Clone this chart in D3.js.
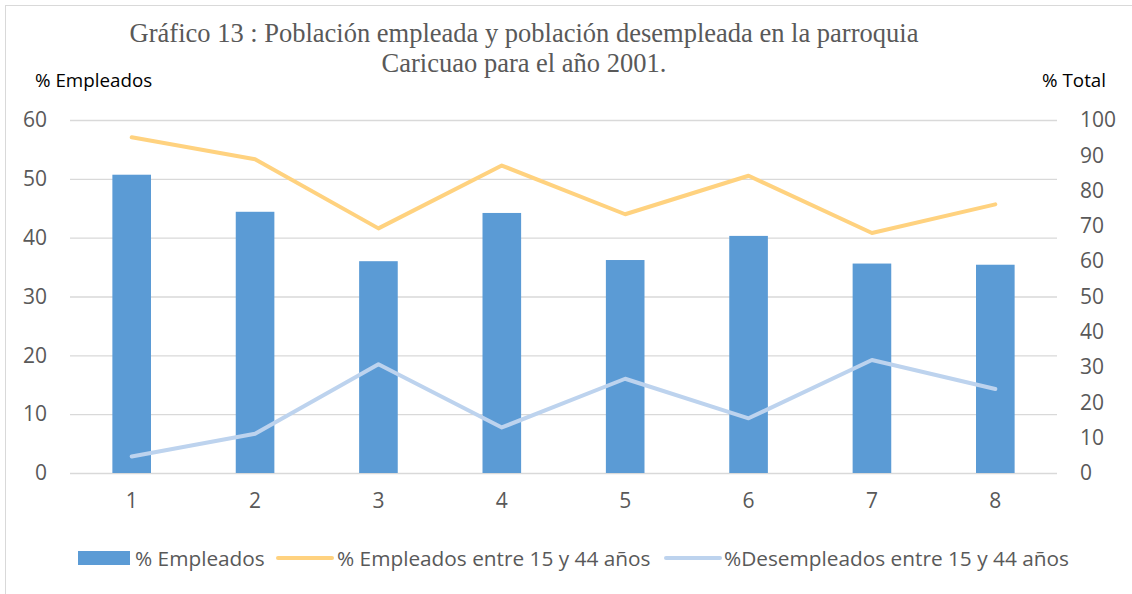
<!DOCTYPE html>
<html>
<head>
<meta charset="utf-8">
<script src="https://cdn.jsdelivr.net/npm/d3@7"></script>
<style>
  body { margin: 0; background: #fff; }
  text { font-family: "Open Sans", sans-serif; }
</style>
</head>
<body>
<div id="chart"></div>
<script>
const width = 1132;
const height = 594;

const margin = { top: 120, left: 70, bottom: 121, right: 75 };

// data
const categories = ["1", "2", "3", "4", "5", "6", "7", "8"];
const empleados = [50.7, 44.4, 36.0, 44.2, 36.2, 40.3, 35.6, 35.4];
const empleados1544 = [95.1, 88.9, 69.3, 87.1, 73.3, 84.2, 68.0, 76.1];
const desempleados1544 = [4.7, 11.1, 30.8, 12.9, 26.7, 15.5, 32.0, 23.8];
const leftTicks = [0, 10, 20, 30, 40, 50, 60];
const rightTicks = [0, 10, 20, 30, 40, 50, 60, 70, 80, 90, 100];

const seriesNames = ["% Empleados", "% Empleados entre 15 y 44 años", "%Desempleados entre 15 y 44 años"];
const colors = ["#5b9bd5", "#ffd27f", "#bdd3ee"];

const innerW = width - margin.left - margin.right;
const innerH = height - margin.top - margin.bottom;

//scales
const xScale = d3.scaleBand()
    .domain(categories)
    .range([0, innerW])
    .paddingInner(0.687)
    .paddingOuter(0.3435);

const yLeft = d3.scaleLinear().domain([0, 60]).range([innerH, 0]);
const yRight = d3.scaleLinear().domain([0, 100]).range([innerH, 0]);

const svg = d3.select("#chart").append("svg").attr("width", width).attr("height", height);

// outer frame (only left and top edges visible in picture)
svg.append("rect")
    .attr("x", 5.5).attr("y", 5.5)
    .attr("width", width + 20).attr("height", height + 20)
    .attr("fill", "none")
    .attr("stroke", "#d9d9d9");

const g = svg.append("g").attr("transform", `translate(${margin.left},${margin.top})`);

// gridlines
g.append("g")
    .attr("class", "grid")
    .call(d3.axisLeft(yLeft).tickValues(leftTicks).tickSize(-innerW).tickFormat(""))
    .call(a => a.select(".domain").remove())
    .call(a => a.selectAll("line").attr("stroke", "#d9d9d9").attr("stroke-width", 1.3));

// left axis labels
g.append("g")
    .attr("class", "y-left")
    .call(d3.axisLeft(yLeft).tickValues(leftTicks).tickSize(0).tickPadding(23))
    .call(a => a.select(".domain").remove())
    .call(a => a.selectAll("text").attr("fill", "#595959").attr("font-size", 21).attr("font-family", "Open Sans"));

// right axis labels (left aligned)
g.append("g")
    .attr("class", "y-right")
    .attr("transform", `translate(${innerW},0)`)
    .call(d3.axisRight(yRight).tickValues(rightTicks).tickSize(0).tickPadding(23))
    .call(a => a.select(".domain").remove())
    .call(a => a.selectAll("text").attr("fill", "#595959").attr("font-size", 21).attr("font-family", "Open Sans"));

// x axis labels
g.append("g")
    .attr("class", "x-axis")
    .attr("transform", `translate(0,${innerH})`)
    .call(d3.axisBottom(xScale).tickSize(0).tickPadding(20))
    .call(a => a.select(".domain").remove())
    .call(a => a.selectAll("text").attr("fill", "#595959").attr("font-size", 21).attr("font-family", "Open Sans"));

// bars
g.selectAll("rect.bar")
    .data(empleados)
    .join("rect")
    .attr("class", "bar")
    .attr("x", (d, i) => xScale(categories[i]))
    .attr("y", d => yLeft(d))
    .attr("width", xScale.bandwidth())
    .attr("height", d => innerH - yLeft(d))
    .attr("fill", colors[0]);

const line = d3.line()
    .x((d, i) => xScale(categories[i]) + xScale.bandwidth() / 2)
    .y(d => yRight(d));

g.append("path")
    .datum(empleados1544)
    .attr("d", line)
    .attr("fill", "none")
    .attr("stroke", colors[1])
    .attr("stroke-width", 4)
    .attr("stroke-linejoin", "round")
    .attr("stroke-linecap", "round");

g.append("path")
    .datum(desempleados1544)
    .attr("d", line)
    .attr("fill", "none")
    .attr("stroke", colors[2])
    .attr("stroke-width", 4)
    .attr("stroke-linejoin", "round")
    .attr("stroke-linecap", "round");

// title
const title = svg.append("text")
    .attr("x", 524)
    .attr("y", 42)
    .attr("text-anchor", "middle")
    .attr("fill", "#595959")
    .attr("font-size", 26.5)
    .style("font-family", "'Liberation Serif', serif");
title.append("tspan").attr("x", 524).text("Gráfico 13 : Población empleada y población desempleada en la parroquia");
title.append("tspan").attr("x", 524).attr("dy", 30).text("Caricuao para el año 2001.");

// axis titles
svg.append("text")
    .attr("x", 35).attr("y", 87)
    .attr("font-size", 18.8)
    .attr("fill", "#000")
    .text("% Empleados");

svg.append("text")
    .attr("x", 1106).attr("y", 87)
    .attr("text-anchor", "end")
    .attr("font-size", 18.8)
    .attr("fill", "#000")
    .text("% Total");

// legend
const legendY = 558;
const legendItems = [
    { name: seriesNames[0], color: colors[0], type: "rect", x: 78, tx: 135 },
    { name: seriesNames[1], color: colors[1], type: "line", x: 278, tx: 337 },
    { name: seriesNames[2], color: colors[2], type: "line", x: 666, tx: 724 }
];

const legendG = svg.append("g").attr("class", "legend");
legendItems.forEach(d => {
    if (d.type === "rect") {
        legendG.append("rect")
            .attr("x", d.x).attr("y", legendY - 7)
            .attr("width", 52).attr("height", 14)
            .attr("fill", d.color);
    } else {
        legendG.append("line")
            .attr("x1", d.x).attr("x2", d.x + 54)
            .attr("y1", legendY).attr("y2", legendY)
            .attr("stroke", d.color)
            .attr("stroke-width", 4)
            .attr("stroke-linecap", "round");
    }
    legendG.append("text")
        .attr("x", d.tx).attr("y", legendY + 8)
        .attr("font-size", 20.8)
        .attr("fill", "#595959")
        .text(d.name);
});
</script>
</body>
</html>
